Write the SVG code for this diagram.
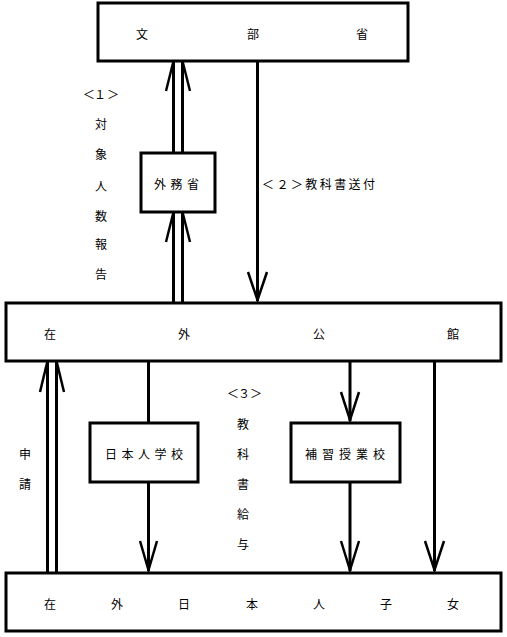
<svg xmlns="http://www.w3.org/2000/svg" width="507" height="637" viewBox="0 0 507 637">
<style>
.box{fill:#fff;stroke:#000;stroke-width:3}
.ln{fill:none;stroke:#000;stroke-width:3}
.ah{fill:none;stroke:#000;stroke-width:2.5}
text{font-family:"Noto Sans CJK JP","Noto Sans CJK SC",sans-serif;font-size:12px;fill:#000;dominant-baseline:central}
.c{text-anchor:middle}
</style>
<rect width="507" height="637" fill="#fff"/>
<g id="connectors">
<line class="ln" x1="173.5" y1="62" x2="173.5" y2="152"/>
<line class="ln" x1="182.5" y1="62" x2="182.5" y2="152"/>
<polyline class="ah" points="166,91 173,63"/>
<polyline class="ah" points="190,91 183,63"/>
<line class="ln" x1="173.5" y1="213" x2="173.5" y2="302"/>
<line class="ln" x1="182.5" y1="213" x2="182.5" y2="302"/>
<polyline class="ah" points="166,242 173,214"/>
<polyline class="ah" points="190,242 183,214"/>
<line class="ln" x1="257.5" y1="62" x2="257.5" y2="301"/>
<polyline class="ah" points="248,272 257.5,300 267,272"/>
<line class="ln" x1="47.5" y1="362" x2="47.5" y2="572"/>
<line class="ln" x1="56.5" y1="362" x2="56.5" y2="572"/>
<polyline class="ah" points="40,392 47,363"/>
<polyline class="ah" points="64,392 57,363"/>
<line class="ln" x1="148.5" y1="362" x2="148.5" y2="422"/>
<line class="ln" x1="148.5" y1="482" x2="148.5" y2="571"/>
<polyline class="ah" points="140,541 148.5,570 157,541"/>
<line class="ln" x1="350" y1="362" x2="350" y2="421"/>
<polyline class="ah" points="341,392 350,420 359,392"/>
<line class="ln" x1="350" y1="482" x2="350" y2="571"/>
<polyline class="ah" points="341,541 350,570 359,541"/>
<line class="ln" x1="434.5" y1="362" x2="434.5" y2="571"/>
<polyline class="ah" points="425,541 434.5,570 444,541"/>
</g>
<g id="monbusho">
<rect class="box" x="98" y="3" width="310" height="58"/>
<text class="c" x="142" y="33">文</text>
<text class="c" x="253" y="33">部</text>
<text class="c" x="362" y="33">省</text>
</g>
<g id="gaimusho">
<rect class="box" x="141" y="153" width="74" height="59"/>
<text x="154" y="183" textLength="45" lengthAdjust="spacing">外務省</text>
</g>
<g id="zaigai-kokan">
<rect class="box" x="6" y="303" width="495" height="58"/>
<text class="c" x="50" y="333">在</text>
<text class="c" x="184" y="333">外</text>
<text class="c" x="319" y="333">公</text>
<text class="c" x="453" y="333">館</text>
</g>
<g id="nihonjin-gakko">
<rect class="box" x="90" y="423" width="108" height="59"/>
<text x="105" y="453" textLength="78" lengthAdjust="spacing">日本人学校</text>
</g>
<g id="hoshu-jugyoko">
<rect class="box" x="291" y="423" width="109" height="59"/>
<text x="305" y="453" textLength="80" lengthAdjust="spacing">補習授業校</text>
</g>
<g id="zaigai-shijo">
<rect class="box" x="6" y="573" width="495" height="58"/>
<text class="c" x="50" y="603">在</text>
<text class="c" x="117" y="603">外</text>
<text class="c" x="184" y="603">日</text>
<text class="c" x="252" y="603">本</text>
<text class="c" x="319" y="603">人</text>
<text class="c" x="386" y="603">子</text>
<text class="c" x="453" y="603">女</text>
</g>
<g id="labels">
<text class="c" x="89" y="93">＜</text>
<text class="c" x="100" y="93">１</text>
<text class="c" x="113" y="93">＞</text>
<text class="c" x="101" y="123">対</text>
<text class="c" x="101" y="153">象</text>
<text class="c" x="101" y="185">人</text>
<text class="c" x="101" y="215">数</text>
<text class="c" x="101" y="243">報</text>
<text class="c" x="101" y="273">告</text>
<text x="262" y="183" textLength="113" lengthAdjust="spacing">＜２＞教科書送付</text>
<text class="c" x="233" y="392">＜</text>
<text class="c" x="244" y="392">３</text>
<text class="c" x="256" y="392">＞</text>
<text class="c" x="243" y="423">教</text>
<text class="c" x="243" y="453">科</text>
<text class="c" x="243" y="483">書</text>
<text class="c" x="243" y="513">給</text>
<text class="c" x="243" y="543">与</text>
<text class="c" x="25" y="453">申</text>
<text class="c" x="25" y="483">請</text>
</g>
</svg>
